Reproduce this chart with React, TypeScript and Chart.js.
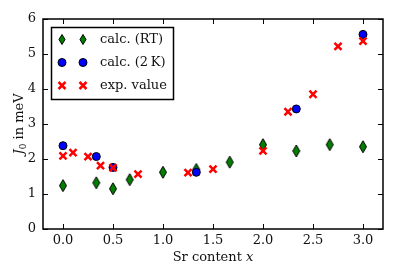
import React, { useEffect, useRef } from "react";
import { Chart, registerables } from "chart.js";

Chart.register(...registerables);

// Data
const rtX = [0, 0.333, 0.5, 0.667, 1.0, 1.333, 1.667, 2.0, 2.333, 2.667, 3.0];
const rtY = [1.24, 1.32, 1.15, 1.41, 1.62, 1.7, 1.91, 2.41, 2.23, 2.41, 2.35];
const k2X = [0, 0.333, 0.5, 1.333, 2.333, 3.0];
const k2Y = [2.38, 2.07, 1.76, 1.62, 3.43, 5.56];
const expX = [0, 0.1, 0.25, 0.375, 0.5, 0.75, 1.25, 1.5, 2.0, 2.25, 2.5, 2.75, 3.0];
const expY = [2.09, 2.18, 2.07, 1.81, 1.75, 1.57, 1.61, 1.71, 2.23, 3.35, 3.85, 5.22, 5.37];
const xTicks = [0, 0.5, 1.0, 1.5, 2.0, 2.5, 3.0];
const yTicks = [0, 1, 2, 3, 4, 5, 6];
const legendLabels = ["calc. (RT)", "calc. (2\u2009K)", "exp. value"];

const FONT = "DejaVu Serif";
const GREEN = "#008000";
const BLUE = "#0000ff";
const RED = "#ff0000";

function drawDiamond(ctx: CanvasRenderingContext2D, x: number, y: number, hw: number, hh: number) {
  ctx.beginPath();
  ctx.moveTo(x, y - hh);
  ctx.lineTo(x + hw, y);
  ctx.lineTo(x, y + hh);
  ctx.lineTo(x - hw, y);
  ctx.closePath();
  ctx.fillStyle = GREEN;
  ctx.fill();
  ctx.lineWidth = 1;
  ctx.strokeStyle = "#000";
  ctx.stroke();
}

function drawCircle(ctx: CanvasRenderingContext2D, x: number, y: number, r: number) {
  ctx.beginPath();
  ctx.arc(x, y, r, 0, Math.PI * 2);
  ctx.fillStyle = BLUE;
  ctx.fill();
  ctx.lineWidth = 1;
  ctx.strokeStyle = "#000";
  ctx.stroke();
}

function drawX(ctx: CanvasRenderingContext2D, x: number, y: number, d: number) {
  ctx.beginPath();
  ctx.moveTo(x - d, y - d);
  ctx.lineTo(x + d, y + d);
  ctx.moveTo(x - d, y + d);
  ctx.lineTo(x + d, y - d);
  ctx.strokeStyle = RED;
  ctx.lineWidth = 2.5;
  ctx.stroke();
}

const framePlugin = {
  id: "framePlugin",
  afterDraw(chart: any) {
    const ctx: CanvasRenderingContext2D = chart.ctx;
    const { left, right, top, bottom } = chart.chartArea;
    const xs = chart.scales.x;
    const ys = chart.scales.y;
    ctx.save();
    // ticks (inward)
    ctx.strokeStyle = "#000";
    ctx.lineWidth = 1;
    ctx.beginPath();
    for (const t of xTicks) {
      const px = Math.round(xs.getPixelForValue(t)) + 0.5;
      ctx.moveTo(px, bottom);
      ctx.lineTo(px, bottom - 5);
      ctx.moveTo(px, top);
      ctx.lineTo(px, top + 5);
    }
    for (const t of yTicks) {
      const py = Math.round(ys.getPixelForValue(t)) + 0.5;
      ctx.moveTo(left, py);
      ctx.lineTo(left + 5, py);
      ctx.moveTo(right, py);
      ctx.lineTo(right - 5, py);
    }
    ctx.stroke();
    // frame
    ctx.lineWidth = 1.5;
    ctx.strokeRect(left, top, right - left, bottom - top);

    // legend
    const lx = 51.5, ly = 27.5, lw = 122, lh = 72;
    ctx.fillStyle = "#fff";
    ctx.fillRect(lx, ly, lw, lh);
    ctx.lineWidth = 1.5;
    ctx.strokeStyle = "#000";
    ctx.strokeRect(lx, ly, lw, lh);
    const rows = [39.5, 62.5, 85.5];
    const mx = [62, 83];
    for (const m of mx) {
      drawDiamond(ctx, m, rows[0], 3, 5);
      drawCircle(ctx, m, rows[1], 4);
      drawX(ctx, m, rows[2], 3.5);
    }
    ctx.fillStyle = "#111";
    ctx.font = `13px "${FONT}"`;
    ctx.textBaseline = "middle";
    ctx.textAlign = "left";
    legendLabels.forEach((l, i) => ctx.fillText(l, 100, rows[i]));

    // x title
    ctx.textBaseline = "alphabetic";
    const xa = "Sr content ";
    ctx.font = `13px "${FONT}"`;
    const w1 = ctx.measureText(xa).width;
    ctx.font = `italic 13px "${FONT}"`;
    const w2 = ctx.measureText("x").width;
    const cx = (left + right) / 2;
    let sx = cx - (w1 + w2) / 2;
    ctx.font = `13px "${FONT}"`;
    ctx.fillText(xa, sx, 261);
    ctx.font = `italic 13px "${FONT}"`;
    ctx.fillText("x", sx + w1, 261);

    // y title
    ctx.translate(23, (top + bottom) / 2);
    ctx.rotate(-Math.PI / 2);
    ctx.font = `italic 13px "${FONT}"`;
    const wj = ctx.measureText("J").width;
    ctx.font = `9px "${FONT}"`;
    const w0 = ctx.measureText("0").width;
    ctx.font = `13px "${FONT}"`;
    const wr = ctx.measureText(" in meV").width;
    const total = wj + w0 + wr;
    let p = -total / 2;
    ctx.font = `italic 13px "${FONT}"`;
    ctx.fillText("J", p, 0);
    p += wj;
    ctx.font = `9px "${FONT}"`;
    ctx.fillText("0", p, 3);
    p += w0;
    ctx.font = `13px "${FONT}"`;
    ctx.fillText(" in meV", p, 0);
    ctx.restore();
  },
};

export default function App() {
  const ref = useRef<HTMLCanvasElement>(null);
  useEffect(() => {
    document.body.style.margin = "0";
    const dia = document.createElement("canvas");
    dia.width = 10;
    dia.height = 14;
    const dctx = dia.getContext("2d")!;
    drawDiamond(dctx, 5, 7, 3.5, 6);

    const chart = new Chart(ref.current!, {
      type: "scatter",
      data: {
        datasets: [
          {
            label: legendLabels[0],
            data: rtX.map((x, i) => ({ x, y: rtY[i] })),
            pointStyle: dia as any,
            order: 2,
          },
          {
            label: legendLabels[1],
            data: k2X.map((x, i) => ({ x, y: k2Y[i] })),
            pointStyle: "circle",
            pointRadius: 4,
            backgroundColor: BLUE,
            borderColor: "#000",
            borderWidth: 1,
            order: 1,
          },
          {
            label: legendLabels[2],
            data: expX.map((x, i) => ({ x, y: expY[i] })),
            pointStyle: "crossRot",
            pointRadius: 5,
            borderColor: RED,
            backgroundColor: RED,
            borderWidth: 2.5,
            order: 0,
          },
        ],
      },
      options: {
        animation: false,
        responsive: true,
        maintainAspectRatio: false,
        layout: { padding: { top: 19, right: 11, left: 0, bottom: 0 } },
        plugins: { legend: { display: false }, tooltip: { enabled: false } },
        scales: {
          x: {
            type: "linear",
            min: -0.2,
            max: 3.2,
            grid: { display: false, drawTicks: false },
            border: { display: false },
            afterBuildTicks: (s: any) => {
              s.ticks = xTicks.map((v) => ({ value: v }));
            },
            afterFit: (s: any) => {
              s.height = 47;
            },
            ticks: {
              padding: 4,
              maxRotation: 0,
              color: "#111",
              font: { family: FONT, size: 13 },
              callback: (v: any) => Number(v).toFixed(1),
            },
          },
          y: {
            type: "linear",
            min: 0,
            max: 6,
            grid: { display: false, drawTicks: false },
            border: { display: false },
            afterBuildTicks: (s: any) => {
              s.ticks = yTicks.map((v) => ({ value: v }));
            },
            afterFit: (s: any) => {
              s.width = 43;
            },
            ticks: {
              padding: 7,
              color: "#111",
              font: { family: FONT, size: 13 },
              callback: (v: any) => String(v),
            },
          },
        },
      },
      plugins: [framePlugin],
    });
    return () => chart.destroy();
  }, []);
  return (
    <div style={{ position: "fixed", left: 0, top: 0, width: 394, height: 276 }}>
      <canvas ref={ref} />
    </div>
  );
}
